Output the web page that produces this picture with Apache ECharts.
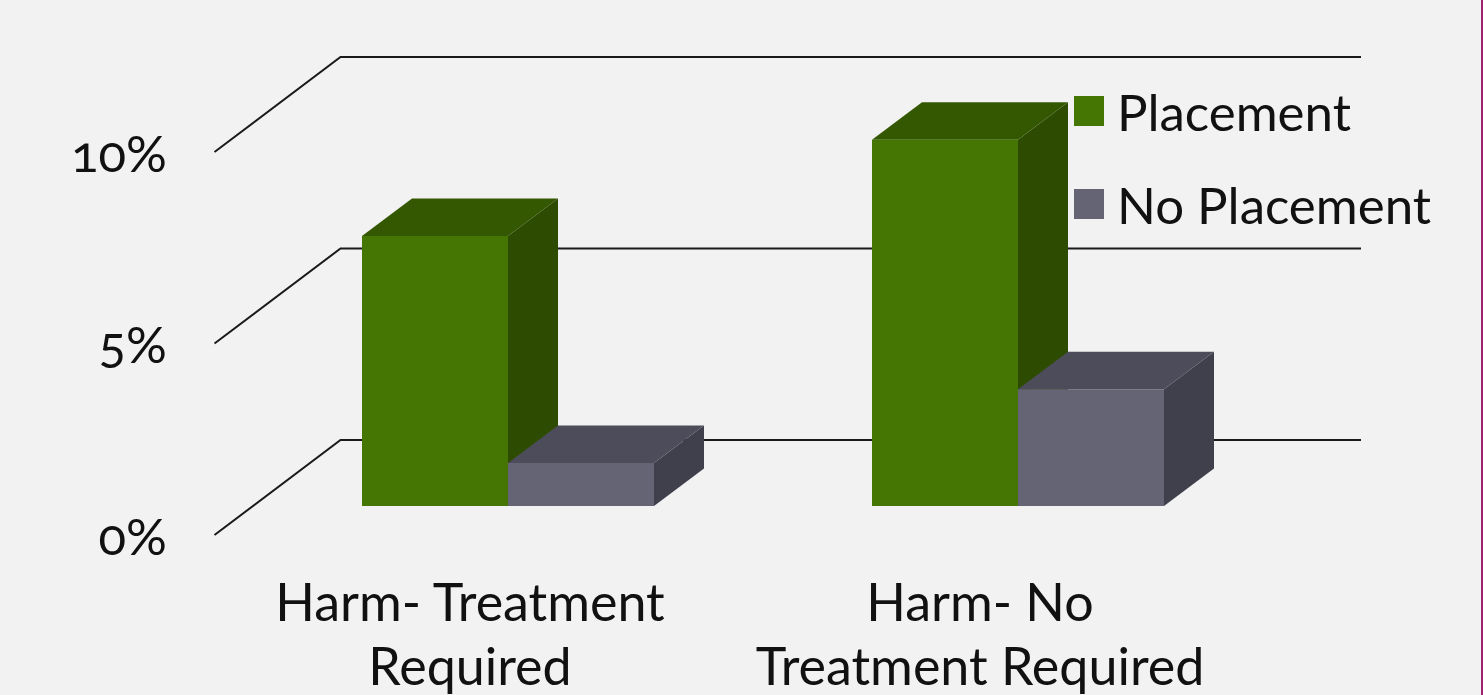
<!DOCTYPE html>
<html>
<head>
<meta charset="utf-8">
<style>
html,body{margin:0;padding:0;width:1483px;height:695px;overflow:hidden;background:#f2f2f2}
#chart{position:absolute;left:0;top:0;width:1483px;height:695px}
#edge{position:absolute;left:1481px;top:0;width:2px;height:695px;background:#a01f70}
text{font-feature-settings:"onum" 1;font-variant-numeric:oldstyle-nums}
</style>
<script src="https://cdn.jsdelivr.net/npm/echarts@6/dist/echarts.min.js"></script>
</head>
<body>
<div id="chart"></div>
<div id="edge"></div>
<script>
var categories = ['Harm- Treatment\nRequired', 'Harm- No\nTreatment Required'];
var seriesNames = ['Placement', 'No Placement'];
var placement = [7.05, 9.56];
var noPlacement = [1.12, 3.05];
var yTicks = [0, 5, 10];

var FONT = 'Lato';
var TEXT = '#111111';
var BACK = [126, -95];      // depth of the floor
var BAR_PLANE = [38, -29];  // where the bars' front faces sit
var BAR_DEPTH = [50, -37.5];
var BAR_RATIO = 146 / 510;
var COLORS = [
  {front: '#457503', top: '#345702', side: '#2d4b01'},
  {front: '#656475', top: '#4d4c5a', side: '#403f4c'}
];

function barSeries(name, values, idx) {
  return {
    type: 'custom',
    name: name,
    coordinateSystem: 'cartesian2d',
    z: 3 + (idx === 0 ? 0 : 1),
    itemStyle: {color: COLORS[idx].front},
    data: values.map(function (v, i) { return [i, v]; }),
    encode: {x: 0, y: 1},
    renderItem: function (params, api) {
      var c = COLORS[idx];
      var base = api.coord([api.value(0), 0]);
      var top = api.coord([api.value(0), api.value(1)]);
      var w = api.size([1, 0])[0] * BAR_RATIO;
      var x0 = base[0] + BAR_PLANE[0] + (idx === 0 ? -w : 0);
      var x1 = x0 + w;
      var yb = base[1] + BAR_PLANE[1];
      var yt = top[1] + BAR_PLANE[1];
      var dx = BAR_DEPTH[0], dy = BAR_DEPTH[1];
      return {type: 'group', children: [
        {type: 'polygon', shape: {points: [[x1, yt], [x1 + dx, yt + dy], [x1 + dx, yb + dy], [x1, yb]]}, style: {fill: c.side}},
        {type: 'polygon', shape: {points: [[x0, yt], [x0 + dx, yt + dy], [x1 + dx, yt + dy], [x1, yt]]}, style: {fill: c.top}},
        {type: 'rect', shape: {x: x0, y: yt, width: w, height: yb - yt}, style: {fill: c.front}}
      ]};
    }
  };
}

var wallSeries = {
  type: 'custom',
  coordinateSystem: 'cartesian2d',
  z: 1,
  silent: true,
  legendHoverLink: false,
  data: yTicks.map(function (v) { return [0, v]; }),
  encode: {y: 1},
  renderItem: function (params, api) {
    var cs = params.coordSys;
    var y = api.coord([0, api.value(1)])[1];
    return {
      type: 'polyline',
      shape: {points: [[cs.x - 0.5, y], [cs.x + BACK[0] - 0.5, y + BACK[1]], [cs.x + cs.width + BACK[0], y + BACK[1]]]},
      style: {fill: null, stroke: '#1a1a1a', lineWidth: 2}
    };
  }
};

var chart = echarts.init(document.getElementById('chart'), null, {renderer: 'svg'});
chart.setOption({
  animation: false,
  backgroundColor: '#f2f2f2',
  grid: {left: 215, width: 1020, top: 152, height: 383, containLabel: false, outerBoundsMode: 'none'},
  legend: {
    data: seriesNames,
    orient: 'vertical',
    left: 1069,
    top: 72,
    itemWidth: 30,
    itemHeight: 30,
    itemGap: 25,
    icon: 'rect',
    textStyle: {fontFamily: FONT, fontSize: 51, color: TEXT, lineHeight: 48, padding: [0, 0, 20, 8]}
  },
  xAxis: {
    type: 'category',
    data: categories,
    axisLine: {show: false},
    axisTick: {show: false},
    splitLine: {show: false},
    axisLabel: {fontFamily: FONT, fontSize: 52, color: TEXT, lineHeight: 64, margin: 34, interval: 0}
  },
  yAxis: {
    type: 'value',
    min: 0,
    max: 10,
    interval: 5,
    axisLine: {show: false},
    axisTick: {show: false},
    splitLine: {show: false},
    axisLabel: {fontFamily: FONT, fontSize: 51, color: TEXT, margin: 48, formatter: '{value}%'}
  },
  series: [wallSeries, barSeries(seriesNames[0], placement, 0), barSeries(seriesNames[1], noPlacement, 1)]
});
</script>
</body>
</html>
